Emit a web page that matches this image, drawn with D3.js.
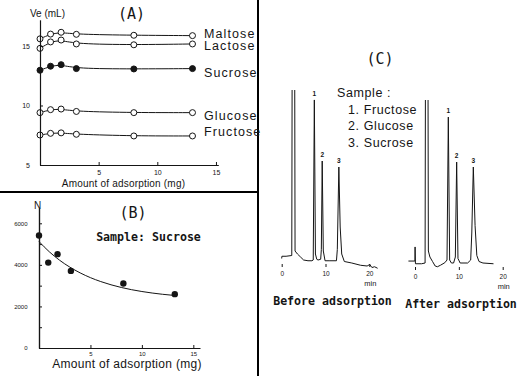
<!DOCTYPE html>
<html><head><meta charset="utf-8">
<script src="https://cdn.jsdelivr.net/npm/d3@7"></script>
<style>body{margin:0;background:#fff;} svg{display:block;}</style>
</head><body><svg id="c" width="527" height="376"></svg>
<script>
// ---------- Panel A data ----------
const adsX = [0, 0.9, 1.8, 3.1, 8, 13];
const sugarNames = ["Maltose", "Lactose", "Sucrose", "Glucose", "Fructose"];
const maltoseVe = [15.6, 16.0, 16.15, 15.98, 15.9, 15.87];
const lactoseVe = [14.8, 15.34, 15.5, 15.17, 15.1, 15.17];
const sucroseVe = [12.96, 13.3, 13.43, 13.1, 13.07, 13.1];
const glucoseVe = [9.4, 9.65, 9.7, 9.5, 9.4, 9.4];
const fructoseVe = [7.52, 7.66, 7.7, 7.58, 7.44, 7.44];
const veTicks = [5, 10, 15];
const adsTicks = [5, 10, 15];

// ---------- Panel B data ----------
const plateX = [0, 0.9, 1.8, 3.1, 8.2, 13.2];
const plateN = [5410, 4110, 4515, 3710, 3100, 2590];
const fitX = [0, 1, 2, 3, 4, 5, 6, 8, 10, 12, 13.2];
const fitN = [5120, 4630, 4224, 3890, 3614, 3385, 3197, 2912, 2718, 2585, 2527];
const nTicks = [0, 2000, 4000, 6000];
const nMinorTicks = [1000, 3000, 5000];

// ---------- Panel C data ----------
const timeTicks = [0, 10, 20];
const peakNums = ["1", "2", "3"];
const legendLines = ["1. Fructose", "2. Glucose", "3. Sucrose"];
const beforeT = [0, 0.05, 1.0, 2.3, 2.4, 2.95, 3.05, 3.6, 4.3, 5.0, 6.0, 6.9, 7.2, 7.45, 7.7, 8.0, 8.3, 8.9, 9.05, 9.25, 9.5, 9.9, 11, 12.5, 12.7, 13.05, 13.35, 13.7, 14.3, 16, 18, 19.5, 20.1, 20.6, 21.2, 21.9];
const beforeS = [-1, 0.5, 0.5, 1, 150, 150, 4, 2, 0, -2, -2.5, -2.5, -2, 104.7, 2, -1.5, -2, -1.5, 5, 64, 4, -2.5, -2.5, -2.5, 5, 60, 20, 2, -3, -4, -5.5, -6, -5, -7, -6.5, -7.5];
const beforePeakT = [7.45, 9.25, 13.05];
const afterT = [-1.5, -0.02, 0.02, 0.1, 1.5, 2.3, 2.4, 2.95, 3.05, 3.4, 4.0, 4.6, 5.1, 5.8, 6.8, 7.3, 7.6, 7.9, 8.3, 8.8, 9.2, 9.5, 9.8, 10.3, 12.0, 12.7, 12.95, 13.3, 13.7, 14.1, 14.6, 15.5, 17.9];
const afterS = [1.3, 1.3, 10.7, -0.5, -0.5, 0, 150, 150, 8, 4, 1, -2, -2.5, -1.5, 0.2, 2, 97.3, 2, 0, 0, 4, 67.3, 3, 0, 0, 2, 20, 64, 25, 5, 1, 0, -0.5];
const afterPeakT = [7.6, 9.5, 13.3];

const ink = "#151515";
const svg = d3.select("#c");
svg.append("rect").attr("width", 527).attr("height", 376).attr("fill", "#fff");

// dividers
svg.append("line").attr("x1", 258).attr("x2", 258).attr("y1", 0).attr("y2", 376).attr("stroke", "#000").attr("stroke-width", 2);
svg.append("line").attr("x1", 0).attr("x2", 258).attr("y1", 192).attr("y2", 192).attr("stroke", "#000").attr("stroke-width", 2);

const sans = "'Liberation Sans', Arial, sans-serif";
const mono = "'DejaVu Sans Mono', 'Liberation Mono', monospace";

function styleAxis(g, fs) {
  g.select(".domain").attr("stroke", ink).attr("stroke-width", 1.2);
  g.selectAll(".tick line").attr("stroke", ink);
  g.selectAll(".tick text").attr("font-family", sans).attr("font-size", fs).attr("fill", ink);
}

// ================= Panel A =================
const xA = d3.scaleLinear().domain([0, 15.2]).range([40, 218.3]);
const yA = d3.scaleLinear().domain([5, 17.2]).range([165, 19.8]);
const seriesA = [maltoseVe, lactoseVe, sucroseVe, glucoseVe, fructoseVe];
const filledA = [false, false, true, false, false];
const labelDy = [-2.5, 2, 4, 3, -4.5];
const lineA = d3.line().x((d, i) => xA(adsX[i])).y(d => yA(d)).curve(d3.curveBasis);
const gA = svg.append("g");
seriesA.forEach((vals, k) => {
  gA.append("path").attr("d", lineA(vals)).attr("fill", "none").attr("stroke", ink).attr("stroke-width", 1);
  gA.selectAll(null).data(vals).enter().append("circle")
    .attr("cx", (d, i) => xA(adsX[i])).attr("cy", d => yA(d)).attr("r", 3)
    .attr("fill", filledA[k] ? ink : "#fff").attr("stroke", ink).attr("stroke-width", 1);
  gA.append("text").attr("x", 204).attr("y", yA(vals[vals.length - 1]) + labelDy[k]).attr("dy", "0.35em")
    .attr("font-family", sans).attr("font-size", 12.5).attr("letter-spacing", 1.1).attr("fill", ink).text(sugarNames[k]);
});
const axA_y = gA.append("g").attr("transform", "translate(40,0)")
  .call(d3.axisLeft(yA).tickValues(veTicks).tickSize(-3).tickSizeOuter(0).tickPadding(10));
styleAxis(axA_y, 7);
const axA_x = gA.append("g").attr("transform", "translate(0,165)")
  .call(d3.axisBottom(xA).tickValues(adsTicks).tickSize(-3).tickSizeOuter(0).tickPadding(5.5));
styleAxis(axA_x, 7);
gA.append("text").attr("x", 30).attr("y", 13).attr("dy", "0.35em").attr("font-family", sans).attr("font-size", 10).attr("fill", ink).text("Ve (mL)");
gA.append("text").attr("x", 131.5).attr("y", 14).attr("dy", "0.35em").attr("text-anchor", "middle").attr("font-family", mono).attr("font-size", 15).attr("fill", ink).text("(A)");
gA.append("text").attr("x", 123.5).attr("y", 183).attr("dy", "0.35em").attr("text-anchor", "middle").attr("font-family", sans).attr("font-size", 10).attr("letter-spacing", 0.2).attr("fill", ink).text("Amount of adsorption (mg)");

// ================= Panel B =================
const xB = d3.scaleLinear().domain([0, 15.65]).range([39, 200]);
const yB = d3.scaleLinear().domain([0, 6736]).range([348, 208]);
const gB = svg.append("g");
const fitLine = d3.line().x((d, i) => xB(fitX[i])).y(d => yB(d)).curve(d3.curveMonotoneX);
gB.append("path").attr("d", fitLine(fitN)).attr("fill", "none").attr("stroke", ink).attr("stroke-width", 1);
gB.selectAll(null).data(plateN).enter().append("circle")
  .attr("cx", (d, i) => xB(plateX[i])).attr("cy", d => yB(d)).attr("r", 3.2).attr("fill", ink);
const axB_minor = gB.append("g").attr("transform", "translate(39,0)")
  .call(d3.axisLeft(yB).tickValues(nMinorTicks).tickSize(-3).tickSizeOuter(0).tickFormat(""));
styleAxis(axB_minor, 6);
const axB_y = gB.append("g").attr("transform", "translate(39,0)")
  .call(d3.axisLeft(yB).tickValues(nTicks).tickSize(-3).tickSizeOuter(0).tickPadding(11.5).tickFormat(d3.format("d")));
styleAxis(axB_y, 6);
const axB_x = gB.append("g").attr("transform", "translate(0,348)")
  .call(d3.axisBottom(xB).tickValues(adsTicks).tickSize(-3).tickSizeOuter(0).tickPadding(4));
styleAxis(axB_x, 6);
gB.append("text").attr("x", 37.5).attr("y", 205).attr("dy", "0.35em").attr("text-anchor", "middle").attr("font-family", sans).attr("font-size", 10).attr("fill", ink).text("N");
gB.append("text").attr("x", 133).attr("y", 213).attr("dy", "0.35em").attr("text-anchor", "middle").attr("font-family", mono).attr("font-size", 15).attr("fill", ink).text("(B)");
gB.append("text").attr("x", 148.5).attr("y", 237).attr("dy", "0.35em").attr("text-anchor", "middle").attr("font-family", mono).attr("font-weight", "bold").attr("font-size", 11.6).attr("fill", ink).text("Sample: Sucrose");
gB.append("text").attr("x", 127).attr("y", 364).attr("dy", "0.35em").attr("text-anchor", "middle").attr("font-family", sans).attr("font-size", 12).attr("letter-spacing", 0.3).attr("fill", ink).text("Amount of adsorption (mg)");

// ================= Panel C =================
const gC = svg.append("g");
gC.append("text").attr("x", 380).attr("y", 58.5).attr("dy", "0.35em").attr("text-anchor", "middle").attr("font-family", mono).attr("font-size", 15).attr("fill", ink).text("(C)");
gC.append("text").attr("x", 337).attr("y", 92.5).attr("dy", "0.35em").attr("font-family", sans).attr("font-size", 12.5).attr("letter-spacing", 0.6).attr("fill", ink).text("Sample :");
legendLines.forEach((t, i) => {
  gC.append("text").attr("x", 348).attr("y", 109.3 + i * 16.7).attr("dy", "0.35em").attr("font-family", sans).attr("font-size", 12.5).attr("letter-spacing", 0.6).attr("fill", ink).text(t);
});

function chromatogram(id, T, S, peakT, x0, x20, base, clipTop, tickY, minY, title, titleX, titleY) {
  const x = d3.scaleLinear().domain([0, 20]).range([x0, x20]);
  const y = d3.scaleLinear().domain([0, 100]).range([base, base - 150]);
  svg.append("clipPath").attr("id", id).append("rect").attr("x", x0 - 20).attr("y", clipTop).attr("width", 140).attr("height", 200);
  const line = d3.line().x((d, i) => x(T[i])).y(d => y(d));
  gC.append("path").attr("d", line(S)).attr("fill", "none").attr("stroke", ink).attr("stroke-width", 1).attr("clip-path", `url(#${id})`);
  peakT.forEach((pt, k) => {
    const idx = T.indexOf(pt);
    gC.append("text").attr("x", x(pt)).attr("y", y(S[idx]) - 4).attr("text-anchor", "middle")
      .attr("font-family", sans).attr("font-weight", "bold").attr("font-size", 6.5).attr("fill", ink).text(peakNums[k]);
  });
  const ax = gC.append("g").attr("transform", `translate(0,${tickY})`)
    .call(d3.axisBottom(x).tickValues(timeTicks).tickSize(3).tickPadding(4.4));
  ax.select(".domain").remove();
  ax.selectAll(".tick line").attr("stroke", ink);
  ax.selectAll(".tick text").attr("font-family", sans).attr("font-size", 6.5).attr("fill", ink);
  gC.append("text").attr("x", x(20) + 1).attr("y", minY).attr("dy", "0.35em").attr("text-anchor", "middle").attr("font-family", sans).attr("font-size", 7.5).attr("fill", ink).text("min");
  gC.append("text").attr("x", titleX).attr("y", titleY).attr("dy", "0.35em").attr("text-anchor", "middle").attr("font-family", mono).attr("font-weight", "bold").attr("font-size", 11.6).attr("fill", ink).text(title);
}
chromatogram("clipBefore", beforeT, beforeS, beforePeakT, 281.7, 369.3, 257, 90, 264, 283.5, "Before adsorption", 332.5, 301);
chromatogram("clipAfter", afterT, afterS, afterPeakT, 415, 502.7, 263, 100, 267, 286.5, "After adsorption", 461, 304);
</script>
</body></html>
